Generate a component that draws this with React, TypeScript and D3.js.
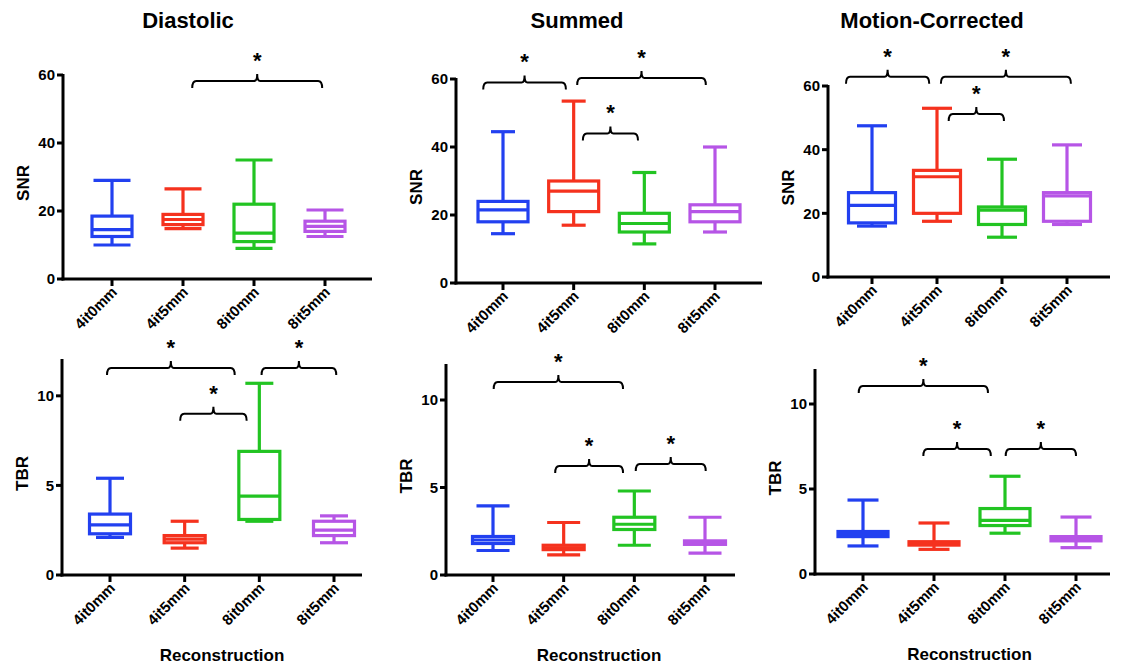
import React from 'react'
import * as d3 from 'd3'

// reconstruction settings (x categories)
const categories = ['4it0mm', '4it5mm', '8it0mm', '8it5mm']
const colors = ['#2240f0', '#f5321e', '#22c422', '#b655e6']

// box stats per category: [min, q1, median, q3, max]
const diastolicSNR = [[10, 12.5, 14.5, 18.5, 29], [14.8, 16, 17.5, 19, 26.5], [9, 11, 13.5, 22, 35], [12.5, 14, 15.5, 17, 20.3]]
const summedSNR = [[14.5, 18, 21.5, 24, 44.5], [17, 21, 27, 30, 53.5], [11.5, 15, 17.5, 20.5, 32.5], [15, 18, 21, 23, 40]]
const motionSNR = [[16, 17, 22.5, 26.5, 47.5], [17.5, 20, 31.5, 33.5, 53], [12.5, 16.5, 21, 22, 37], [16.5, 17.5, 25.5, 26.5, 41.5]]
const diastolicTBR = [[2.1, 2.3, 2.8, 3.4, 5.4], [1.5, 1.8, 2.0, 2.2, 3.0], [3.0, 3.1, 4.4, 6.9, 10.7], [1.8, 2.2, 2.5, 3.0, 3.3]]
const summedTBR = [[1.4, 1.8, 2.0, 2.2, 3.95], [1.15, 1.45, 1.55, 1.7, 3.0], [1.7, 2.6, 2.9, 3.3, 4.8], [1.25, 1.75, 1.85, 1.95, 3.3]]
const motionTBR = [[1.65, 2.2, 2.35, 2.5, 4.35], [1.45, 1.7, 1.8, 1.9, 3.0], [2.4, 2.85, 3.15, 3.85, 5.75], [1.55, 1.95, 2.05, 2.2, 3.35]]

// significance brackets: [from index, to index, level]
const diastolicSNRSig = [[1.13, 2.96, 58.2]]
const summedSNRSig = [[-0.28, 0.89, 59], [1.05, 2.87, 60.3], [1.13, 1.91, 44]]
const motionSNRSig = [[-0.4, 0.88, 62.9], [1.06, 3.06, 62.9], [1.18, 2.03, 51.2]]
const diastolicTBRSig = [[-0.04, 1.67, 11.56], [2.03, 3.03, 11.56], [0.94, 1.83, 9.0]]
const summedTBRSig = [[0.01, 1.84, 11.03], [0.88, 1.84, 6.23], [2.02, 3.01, 6.34]]
const motionTBRSig = [[-0.06, 1.76, 11.06], [0.85, 1.8, 7.35], [2.01, 3.0, 7.35]]

const snrTicks = [0, 20, 40, 60]
const tbrTicks = [0, 5, 10]

const titles = [
  { text: 'Diastolic', x: 188 },
  { text: 'Summed', x: 577 },
  { text: 'Motion-Corrected', x: 932 },
]

const FONT = '"Liberation Sans", Arial, sans-serif'

type PanelProps = {
  stats: number[][]
  sig: number[][]
  ticks: number[]
  yMax: number
  label: string
  axisX: number
  axisEnd: number
  y0: number
  yTop: number
  firstTick: number
  lastTick: number
  boxW: number
  capW: number
  xTitle?: boolean
}

const Panel = (p: PanelProps) => {
  const y = d3.scaleLinear().domain([0, p.yMax]).range([p.y0, p.yTop])
  const x = d3.scalePoint<string>().domain(categories).range([p.firstTick, p.lastTick])
  const xi = d3.scaleLinear().domain([0, categories.length - 1]).range([p.firstTick, p.lastTick])
  const sw = 3.2

  return (
    <g fontFamily={FONT} fontWeight="bold">
      {/* boxes */}
      {p.stats.map((s, i) => {
        const cx = x(categories[i]) as number
        const [mn, q1, md, q3, mx] = s
        return (
          <g key={i} stroke={colors[i]} strokeWidth={sw} fill="none">
            <line x1={cx} x2={cx} y1={y(mx)} y2={y(q3)} />
            <line x1={cx} x2={cx} y1={y(q1)} y2={y(mn)} />
            <line x1={cx - p.capW / 2} x2={cx + p.capW / 2} y1={y(mx)} y2={y(mx)} />
            <line x1={cx - p.capW / 2} x2={cx + p.capW / 2} y1={y(mn)} y2={y(mn)} />
            <rect x={cx - p.boxW / 2} y={y(q3)} width={p.boxW} height={y(q1) - y(q3)} />
            <line x1={cx - p.boxW / 2} x2={cx + p.boxW / 2} y1={y(md)} y2={y(md)} />
          </g>
        )
      })}

      {/* axes */}
      <g stroke="#000" strokeWidth={3}>
        <line x1={p.axisX} x2={p.axisX} y1={y(p.yMax) - 1} y2={p.y0 + 1.5} />
        <line x1={p.axisX - 1.5} x2={p.axisEnd} y1={p.y0} y2={p.y0} />
        {p.ticks.map((t) => (
          <line key={t} x1={p.axisX - 6} x2={p.axisX} y1={y(t)} y2={y(t)} />
        ))}
        {categories.map((c) => (
          <line key={c} x1={x(c)} x2={x(c)} y1={p.y0} y2={p.y0 + 7} />
        ))}
      </g>
      {p.ticks.map((t) => (
        <text key={t} x={p.axisX - 8} y={y(t)} dy="0.36em" textAnchor="end" fontSize={15}>{t}</text>
      ))}
      {categories.map((c) => (
        <text key={c} transform={`translate(${(x(c) as number) + 6},${p.y0 + 14}) rotate(-45)`}
          textAnchor="end" fontSize={15}>{c}</text>
      ))}
      <text transform={`translate(${p.axisX - 34},${(p.y0 + y(p.yMax)) / 2 + 6}) rotate(-90)`}
        textAnchor="middle" fontSize={17}>{p.label}</text>
      {p.xTitle && (
        <text x={(p.firstTick + p.lastTick) / 2} y={p.y0 + 86} textAnchor="middle" fontSize={17}>Reconstruction</text>
      )}

      {/* significance brackets */}
      {p.sig.map(([a, b, lv], i) => {
        const x1 = xi(a)
        const x2 = xi(b)
        const xm = (x1 + x2) / 2
        const yy = y(lv)
        const d = `M${x1},${yy + 7} Q${x1},${yy} ${x1 + 4},${yy} L${xm - 3},${yy} Q${xm},${yy} ${xm},${yy - 7} Q${xm},${yy} ${xm + 3},${yy} L${x2 - 4},${yy} Q${x2},${yy} ${x2},${yy + 7}`
        return (
          <g key={i}>
            <path d={d} fill="none" stroke="#000" strokeWidth={2} />
            <text x={xm} y={yy - 13} textAnchor="middle" fontSize={22}>*</text>
          </g>
        )
      })}
    </g>
  )
}

export default function App() {
  return (
    <svg width={1127} height={668} style={{ position: 'absolute', left: 0, top: 0, background: '#fff' }}>
      {titles.map((t) => (
        <text key={t.text} x={t.x} y={28} textAnchor="middle" fontFamily={FONT} fontWeight="bold" fontSize={22}>{t.text}</text>
      ))}
      <Panel stats={diastolicSNR} sig={diastolicSNRSig} ticks={snrTicks} yMax={60} label="SNR"
        axisX={63} axisEnd={372} y0={279} yTop={75} firstTick={112} lastTick={325} boxW={40} capW={37} />
      <Panel stats={summedSNR} sig={summedSNRSig} ticks={snrTicks} yMax={60} label="SNR"
        axisX={456} axisEnd={762} y0={283} yTop={79} firstTick={503} lastTick={715} boxW={50} capW={24} />
      <Panel stats={motionSNR} sig={motionSNRSig} ticks={snrTicks} yMax={60} label="SNR"
        axisX={828} axisEnd={1110} y0={277} yTop={86} firstTick={872} lastTick={1067} boxW={47} capW={30} />
      <Panel stats={diastolicTBR} sig={diastolicTBRSig} ticks={tbrTicks} yMax={12} label="TBR"
        axisX={62} axisEnd={362} y0={575} yTop={360} firstTick={110} lastTick={334} boxW={41} capW={28} xTitle />
      <Panel stats={summedTBR} sig={summedTBRSig} ticks={tbrTicks} yMax={12} label="TBR"
        axisX={446} axisEnd={735} y0={575} yTop={365} firstTick={493} lastTick={705} boxW={41} capW={33} xTitle />
      <Panel stats={motionTBR} sig={motionTBRSig} ticks={tbrTicks} yMax={12} label="TBR"
        axisX={815} axisEnd={1110} y0={574} yTop={370} firstTick={863} lastTick={1076} boxW={50} capW={31} xTitle />
    </svg>
  )
}
